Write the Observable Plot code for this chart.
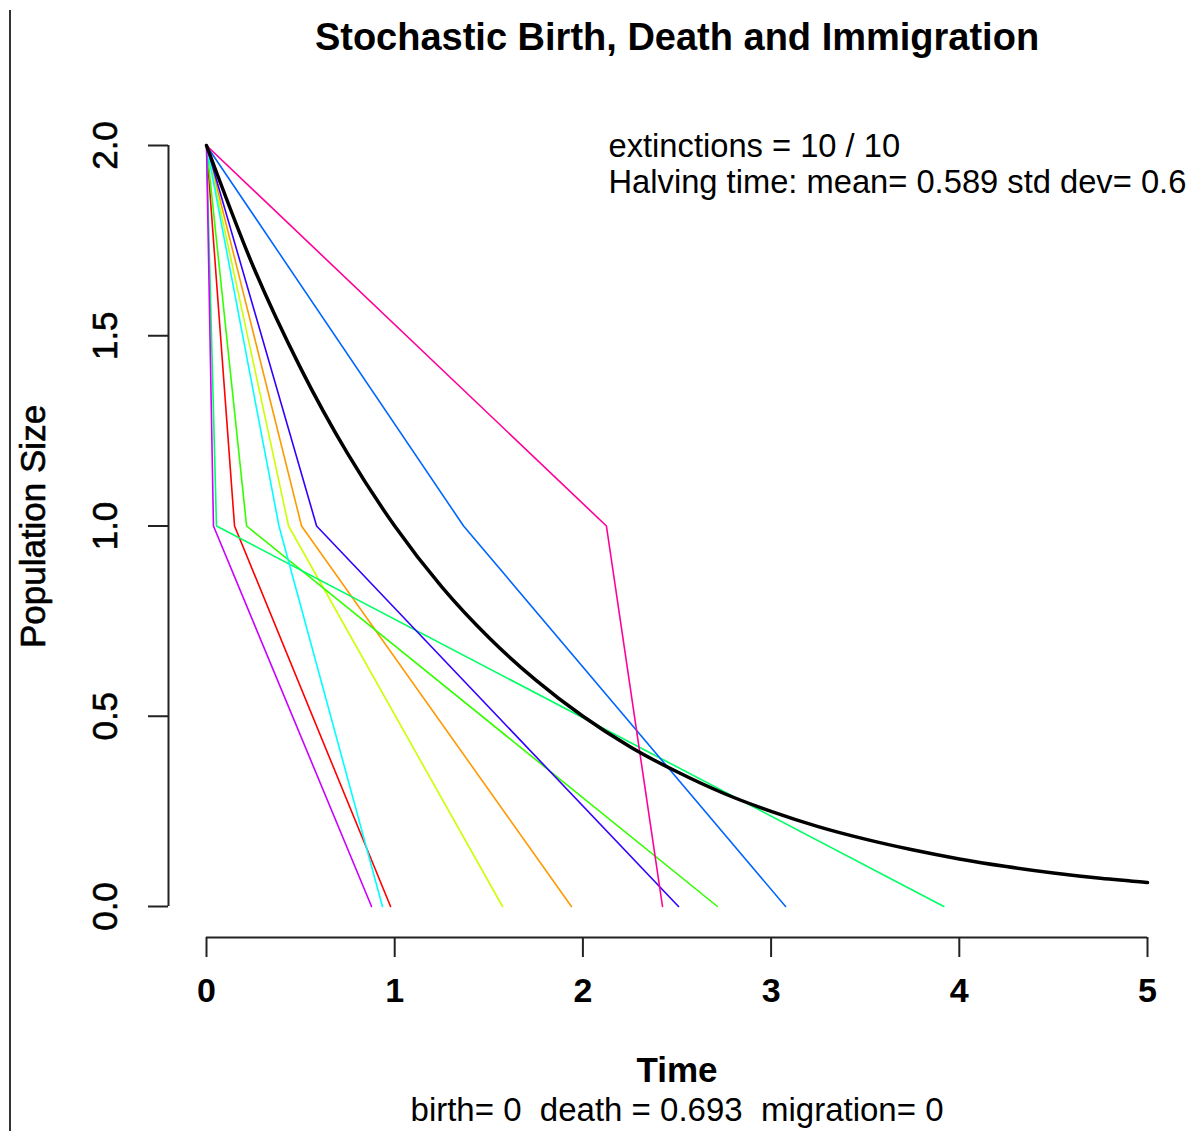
<!DOCTYPE html>
<html>
<head>
<meta charset="utf-8">
<script src="https://cdn.jsdelivr.net/npm/d3@7"></script>
<script src="https://cdn.jsdelivr.net/npm/@observablehq/plot@0.6"></script>
<style>
  html, body { margin: 0; padding: 0; background: #fff; }
  #wrap { position: relative; width: 1198px; height: 1131px; }
  #edge { position: absolute; left: 9px; top: 10px; width: 2px; height: 1121px; background: #333; }
  svg { font-family: "Liberation Sans", Arial, Helvetica, sans-serif; }
</style>
</head>
<body>
<div id="wrap"><div id="edge"></div><div id="chart"></div></div>
<script>
// ---- data ----
const runColors = ["#FF0000", "#FF9900", "#CCFF00", "#33FF00", "#00FF66", "#00FFFF", "#0066FF", "#3300FF", "#CC00FF", "#FF0099"];
// time when each run dropped from 2 to 1 individual
const halvingTimes = [0.149, 0.505, 0.436, 0.213, 0.053, 0.385, 1.366, 0.585, 0.037, 2.125];
// time when each run went extinct (1 -> 0)
const extinctionTimes = [0.978, 1.939, 1.573, 2.715, 3.918, 0.935, 3.077, 2.508, 0.877, 2.423];
const populationSteps = [2, 1, 0];

// deterministic mean curve (black)
const meanTimes  = [0, 0.25, 0.5, 0.75, 1.0, 1.25, 1.5, 1.75, 2.0, 2.25, 2.5, 2.75, 3.0, 3.25, 3.5, 3.75, 4.0, 4.25, 4.5, 4.75, 5.0];
const meanValues = [2.0, 1.68, 1.415, 1.19, 1.0, 0.84, 0.707, 0.595, 0.5, 0.42, 0.354, 0.297, 0.25, 0.21, 0.177, 0.149, 0.125, 0.105, 0.088, 0.074, 0.063];

const xTicks = [0, 1, 2, 3, 4, 5];
const yTicks = [0, 0.5, 1, 1.5, 2];

const titleText = "Stochastic Birth, Death and Immigration";
const xLabel = "Time";
const yLabel = "Population Size";
const subText = "birth= 0  death = 0.693  migration= 0";
const noteLines = ["extinctions = 10 / 10", "Halving time: mean= 0.589 std dev= 0.6"];

// ---- build tables ----
const runs = [];
runColors.forEach((c, i) => {
  const times = [0, halvingTimes[i], extinctionTimes[i]];
  times.forEach((t, k) => runs.push({run: i, color: c, t, n: populationSteps[k]}));
});
const mean = meanTimes.map((t, i) => ({t, n: meanValues[i]}));

const font = "Liberation Sans, Arial, Helvetica, sans-serif";

const chart = Plot.plot({
  width: 1198,
  height: 1131,
  marginLeft: 168,
  marginRight: 13,
  marginTop: 115,
  marginBottom: 194,
  insetLeft: 38,
  insetRight: 38,
  insetTop: 30,
  insetBottom: 31,
  style: {background: "transparent", fontFamily: font, overflow: "visible"},
  x: {domain: [xTicks[0], xTicks[xTicks.length - 1]], axis: null},
  y: {domain: [yTicks[0], yTicks[yTicks.length - 1]], axis: null},
  color: {type: "identity"},
  marks: [
    // axes (R style, detached from the data region)
    Plot.ruleY([yTicks[0]], {x1: xTicks[0], x2: xTicks[xTicks.length - 1], dy: 31, stroke: "#222", strokeWidth: 2}),
    Plot.ruleX([xTicks[0]], {y1: yTicks[0], y2: yTicks[yTicks.length - 1], dx: -38, stroke: "#222", strokeWidth: 2}),
    Plot.axisX(xTicks, {anchor: "bottom", label: null, tickSize: 20, tickPadding: 20, stroke: "#222", strokeWidth: 2,
      fontSize: 34, fontWeight: "bold", fill: "#000", tickFormat: d => String(d)}),
    Plot.axisY(yTicks, {anchor: "left", label: null, tickSize: 20, stroke: "#222", strokeWidth: 2, tickFormat: () => ""}),
    Plot.text(yTicks, {x: xTicks[0], y: d => d, text: d => d.toFixed(1), rotate: -90, dx: -101,
      fontSize: 35, fill: "#000", textAnchor: "middle", lineAnchor: "middle", stroke: "#000", strokeWidth: 0.6}),
    // stochastic runs
    Plot.line(runs, {x: "t", y: "n", z: "run", stroke: "color", strokeWidth: 1.6}),
    // mean curve
    Plot.line(mean, {x: "t", y: "n", stroke: "#000", strokeWidth: 3.5, curve: "monotone-x"}),
    // annotation (two lines, like R's text())
    Plot.text(noteLines, {x: 2.136, y: 2, text: d => d, dy: 1, textAnchor: "start", lineAnchor: "middle",
      fontSize: 32.7, fill: "#000", filter: (d, i) => i === 0}),
    Plot.text(noteLines, {x: 2.136, y: 2, text: d => d, dy: 37, textAnchor: "start", lineAnchor: "middle",
      fontSize: 32.7, fill: "#000", filter: (d, i) => i === 1}),
    // titles
    Plot.text([titleText], {frameAnchor: "top", dy: -78, text: d => d, fontSize: 38, fontWeight: "bold",
      lineAnchor: "middle", fill: "#000"}),
    Plot.text([xLabel], {frameAnchor: "bottom", dy: 133, text: d => d, fontSize: 35, fontWeight: "bold",
      lineAnchor: "middle", fill: "#000"}),
    Plot.text([subText], {frameAnchor: "bottom", dy: 173, text: d => d, fontSize: 33,
      lineAnchor: "middle", fill: "#000"}),
    Plot.text([yLabel], {frameAnchor: "left", dx: -135, text: d => d, rotate: -90, fontSize: 35,
      textAnchor: "middle", lineAnchor: "middle", fill: "#000", stroke: "#000", strokeWidth: 0.6})
  ]
});
document.getElementById("chart").appendChild(chart);
</script>
</body>
</html>
